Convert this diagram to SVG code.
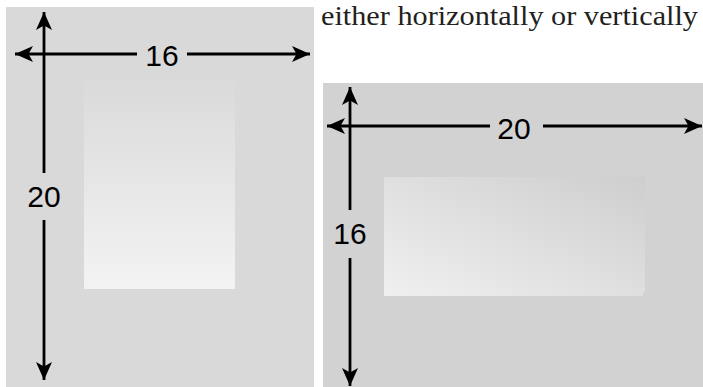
<svg xmlns="http://www.w3.org/2000/svg" width="703" height="387" viewBox="0 0 703 387">
<style>
.dim{stroke:#000;stroke-width:2.8;fill:none}
.lbl{font-family:"Liberation Sans",Arial,sans-serif;font-size:30px;fill:#000;text-anchor:middle}
.cap{font-family:"Liberation Serif","Times New Roman",serif;font-size:27px;fill:#231f20}
</style>
<defs>
<marker id="ah" markerUnits="userSpaceOnUse" markerWidth="20" markerHeight="18" viewBox="-19 -9 20 18" refX="0" refY="0" orient="auto">
<path d="M0,0 L-18,-8 L-13.5,0 L-18,8 Z" fill="#000"/>
</marker>
<linearGradient id="g1" x1="0" y1="0" x2="0" y2="1">
<stop offset="0" stop-color="#dadada"/>
<stop offset="1" stop-color="#f3f3f3"/>
</linearGradient>
<linearGradient id="g2" x1="0" y1="1" x2="1" y2="0">
<stop offset="0" stop-color="#f0f0f0"/>
<stop offset="1" stop-color="#cecece"/>
</linearGradient>
</defs>
<text class="cap" x="321" y="24.5" textLength="377" lengthAdjust="spacingAndGlyphs">either horizontally or vertically</text>
<g id="panel-portrait">
<rect x="6" y="7" width="308" height="380" fill="#d9d9d9"/>
<rect x="84" y="79" width="151" height="210" fill="url(#g1)"/>
<text class="lbl" x="162" y="66">16</text>
<text class="lbl" x="44" y="207">20</text>
</g>
<g id="panel-landscape">
<rect x="323" y="83" width="380" height="304" fill="#d2d2d2"/>
<path d="M384,177 H645 V291 L642,296 H384 Z" fill="url(#g2)"/>
<text class="lbl" x="514" y="139">20</text>
<text class="lbl" x="350" y="244">16</text>
</g>
<g id="connectors">
<line class="dim" x1="44" y1="173" x2="44" y2="12" marker-end="url(#ah)"/>
<line class="dim" x1="44" y1="220" x2="44" y2="380" marker-end="url(#ah)"/>
<line class="dim" x1="137" y1="54" x2="15" y2="54" marker-end="url(#ah)"/>
<line class="dim" x1="187" y1="54" x2="310" y2="54" marker-end="url(#ah)"/>
<line class="dim" x1="350" y1="210" x2="350" y2="87" marker-end="url(#ah)"/>
<line class="dim" x1="350" y1="258" x2="350" y2="386" marker-end="url(#ah)"/>
<line class="dim" x1="490" y1="126" x2="327" y2="126" marker-end="url(#ah)"/>
<line class="dim" x1="543" y1="126" x2="702" y2="126" marker-end="url(#ah)"/>
</g>
</svg>
